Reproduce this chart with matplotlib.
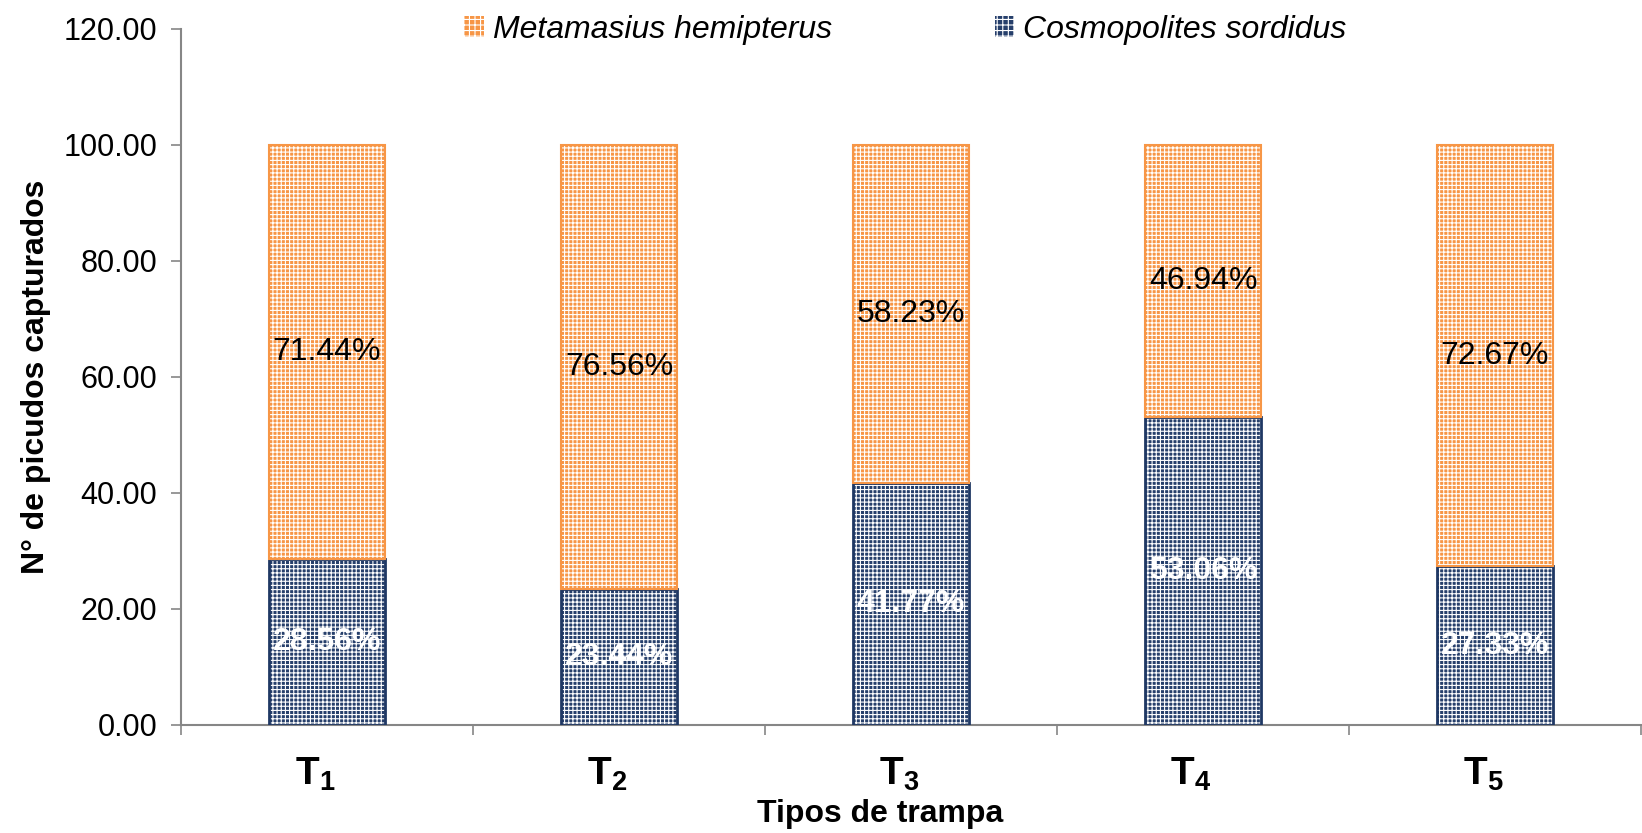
import matplotlib
matplotlib.use('Agg')
import matplotlib.pyplot as plt
import matplotlib.transforms as mtransforms
from matplotlib.patches import Patch
import numpy as np

categories = ['1', '2', '3', '4', '5']
cosmopolites = [28.56, 23.44, 41.77, 53.06, 27.33]
metamasius = [71.44, 76.56, 58.23, 46.94, 72.67]
yticks = [0, 20, 40, 60, 80, 100, 120]
series_names = ['Metamasius hemipterus', 'Cosmopolites sordidus']

plt.rcParams['font.family'] = ['Liberation Sans', 'DejaVu Sans']
plt.rcParams['mathtext.fontset'] = 'custom'
plt.rcParams['mathtext.rm'] = 'Liberation Sans'
plt.rcParams['mathtext.bf'] = 'Liberation Sans:bold'
plt.rcParams['hatch.linewidth'] = 0.8

navy = '#1f3864'
navy_face = '#263f6b'
orange = '#f79646'
gray = '#868686'

fig = plt.figure(figsize=(16.42, 8.33), dpi=100)
ax = fig.add_axes([181/1642, 1-725/833, (1641-181)/1642, (725-29)/833])

x = np.arange(len(categories))
w = 0.4
# Cosmopolites (bottom)
ax.bar(x, cosmopolites, w, color=navy_face, edgecolor='white', hatch='++++', linewidth=0, zorder=2)
ax.bar(x, cosmopolites, w, fill=False, edgecolor=navy, linewidth=2, zorder=3)
# Metamasius (top)
ax.bar(x, metamasius, w, bottom=cosmopolites, color=orange, edgecolor='white', hatch='++++', linewidth=0, zorder=2)
ax.bar(x, metamasius, w, bottom=cosmopolites, fill=False, edgecolor=orange, linewidth=1.5, zorder=3)

for xi, c, m in zip(x, cosmopolites, metamasius):
    ax.text(xi, c/2, f'{c:.2f}%', ha='center', va='center', color='white',
            fontweight='bold', fontsize=23, zorder=4)
    ax.text(xi, c + m/2, f'{m:.2f}%', ha='center', va='center', color='black',
            fontsize=23, zorder=4)

ax.set_xlim(-0.5, len(categories) - 0.5)
ax.set_ylim(0, 120)
ax.set_yticks(yticks)
ax.set_yticklabels([f'{v:.2f}' for v in yticks], fontsize=22)
ax.tick_params(axis='y', length=7, width=1.2, color=gray, pad=10)

ax.set_xticks(x)
ax.set_xticklabels([rf'$\mathbf{{T_{{{c}}}}}$' for c in categories], fontsize=28)
ax.tick_params(axis='x', which='major', length=0, pad=22)
ax.set_xticks(np.arange(len(categories) + 1) - 0.5, minor=True)
ax.tick_params(axis='x', which='minor', length=7, width=1.2, color=gray)
offset = mtransforms.ScaledTranslation(-12/100, 0, fig.dpi_scale_trans)
for lbl in ax.get_xticklabels():
    lbl.set_transform(lbl.get_transform() + offset)

for s in ['top', 'right']:
    ax.spines[s].set_visible(False)
for s in ['left', 'bottom']:
    ax.spines[s].set_color(gray)
    ax.spines[s].set_linewidth(1.5)

ax.set_ylabel('N° de picudos capturados', fontsize=23, fontweight='bold')
ax.yaxis.set_label_coords(-0.089, 0.5)
ax.set_xlabel('Tipos de trampa', fontsize=23, fontweight='bold')
ax.xaxis.set_label_coords(0.479, -0.106)

handles = [Patch(facecolor=orange, edgecolor='white', hatch='+++', linewidth=0),
           Patch(facecolor=navy_face, edgecolor='white', hatch='+++', linewidth=0)]
ax.legend(handles, series_names, loc='center', bbox_to_anchor=(0.496, 0.999),
          ncol=2, frameon=False, prop={'style': 'italic', 'size': 23},
          columnspacing=5.1, handlelength=0.62, handleheight=0.62, handletextpad=0.28)

fig.savefig('out.png', dpi=100)
